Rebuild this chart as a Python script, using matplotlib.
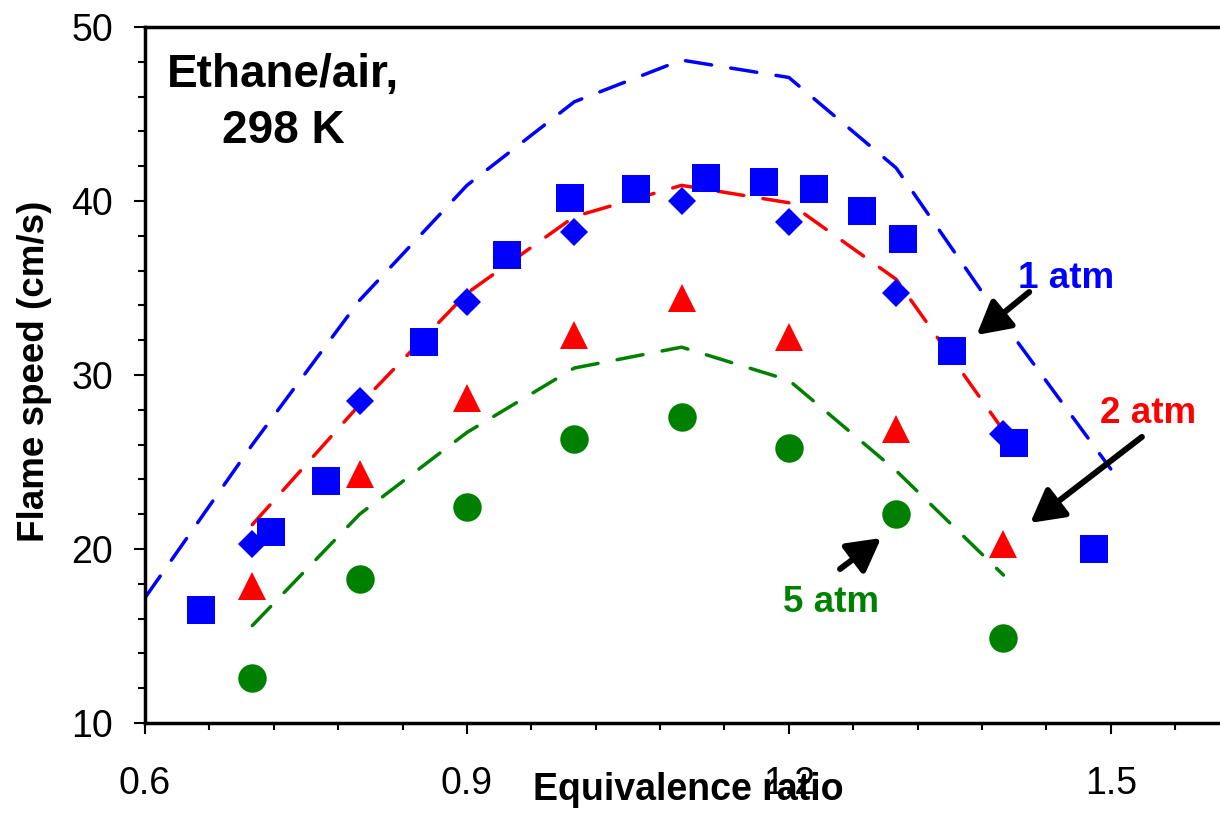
import matplotlib
matplotlib.use('Agg')
import matplotlib.pyplot as plt
from matplotlib.ticker import MultipleLocator

plt.rcParams['font.family'] = ['Liberation Sans', 'DejaVu Sans']

# measured flame speeds (symbols)
phi_sq = [0.652, 0.717, 0.769, 0.86, 0.937, 0.996, 1.058, 1.123, 1.177, 1.223, 1.268, 1.306, 1.352, 1.41, 1.484]
s_sq = [16.5, 21.0, 23.9, 31.9, 36.9, 40.2, 40.7, 41.3, 41.1, 40.7, 39.4, 37.8, 31.4, 26.1, 20.0]

phi = [0.7, 0.8, 0.9, 1.0, 1.1, 1.2, 1.3, 1.4]
s_dia = [20.3, 28.5, 34.2, 38.2, 40.0, 38.8, 34.7, 26.6]
s_tri = [17.9, 24.3, 28.7, 32.3, 34.4, 32.2, 26.9, 20.3]
s_cir = [12.6, 18.3, 22.4, 26.3, 27.6, 25.8, 22.0, 14.9]

# model curves (dashed)
phi_1 = [0.6, 0.7, 0.8, 0.9, 1.0, 1.1, 1.2, 1.3, 1.4, 1.5]
m_1 = [17.2, 26.0, 34.3, 40.9, 45.7, 48.1, 47.1, 41.9, 33.0, 24.6]
m_2 = [21.4, 28.3, 34.7, 39.1, 40.9, 39.9, 35.5, 26.8]
m_5 = [15.6, 22.0, 26.7, 30.4, 31.6, 29.7, 24.5, 18.5]

blue, red, green = '#0000ff', '#ff0000', '#008000'

fig = plt.figure(figsize=(12.2, 8.26), dpi=100)
ax = fig.add_axes([0.1189, 0.1247, 0.8795, 0.8426])

dash = dict(lw=2.5, dashes=(7.6, 5.6), dash_capstyle='round')
ax.plot(phi_1, m_1, color=blue, **dash)
ax.plot(phi, m_2, color=red, **dash)
ax.plot(phi, m_5, color=green, **dash)

ax.plot(phi, s_dia, 'D', color=blue, ms=14, mew=0, ls='none')
ax.plot(phi_sq, s_sq, 's', color=blue, ms=20.5, mew=0, ls='none')
ax.plot(phi, s_tri, '^', color=red, ms=20.5, mew=0, ls='none')
ax.plot(phi, s_cir, 'o', color=green, ms=20.5, mew=0, ls='none')

ax.set_xlim(0.6, 1.6)
ax.set_ylim(10, 50)
ax.xaxis.set_minor_locator(MultipleLocator(0.06))
ax.yaxis.set_major_locator(MultipleLocator(10))
ax.yaxis.set_minor_locator(MultipleLocator(2))
ax.set_xticks([0.6, 0.9, 1.2, 1.5])
ax.set_xticklabels(['0.6', '0.9', '1.2', '1.5'])

for s in ['left', 'bottom', 'top']:
    ax.spines[s].set_linewidth(2.5)
ax.spines['right'].set_visible(False)
ax.tick_params(axis='both', which='major', direction='out', length=8, width=1.5, labelsize=27)
ax.tick_params(axis='both', which='minor', direction='out', length=5, width=1.5)
ax.tick_params(axis='x', which='major', pad=23)
ax.tick_params(axis='y', which='major', pad=15)

ax.set_xlabel('Equivalence ratio', fontsize=27, fontweight='bold')
ax.xaxis.set_label_coords(0.506, -0.07)
ax.set_ylabel('Flame speed (cm/s)', fontsize=26.5, fontweight='bold')
ax.yaxis.set_label_coords(-0.087, 0.506)

ax.text(0.1286, 0.962, 'Ethane/air,\n298 K', transform=ax.transAxes, ha='center', va='top',
        fontsize=33, fontweight='bold', linespacing=1.34)

ax.text(1.4136, 35.0, '1 atm', color=blue, fontsize=26.5, fontweight='bold', ha='left', va='baseline')
ax.text(1.490, 27.24, '2 atm', color=red, fontsize=26.5, fontweight='bold', ha='left', va='baseline')
ax.text(1.1946, 16.38, '5 atm', color=green, fontsize=26.5, fontweight='bold', ha='left', va='baseline')

arrow = dict(arrowstyle='-|>,head_length=1.0,head_width=0.55', lw=4.3, color='k',
             mutation_scale=20, shrinkA=0, shrinkB=0)
ax.annotate('', xy=(1.375, 32.3), xytext=(1.424, 34.77), arrowprops=arrow)
ax.annotate('', xy=(1.425, 21.5), xytext=(1.529, 26.44), arrowprops=arrow)
ax.annotate('', xy=(1.286, 20.63), xytext=(1.2477, 18.85), arrowprops=arrow)

fig.savefig('out.png', dpi=100)
